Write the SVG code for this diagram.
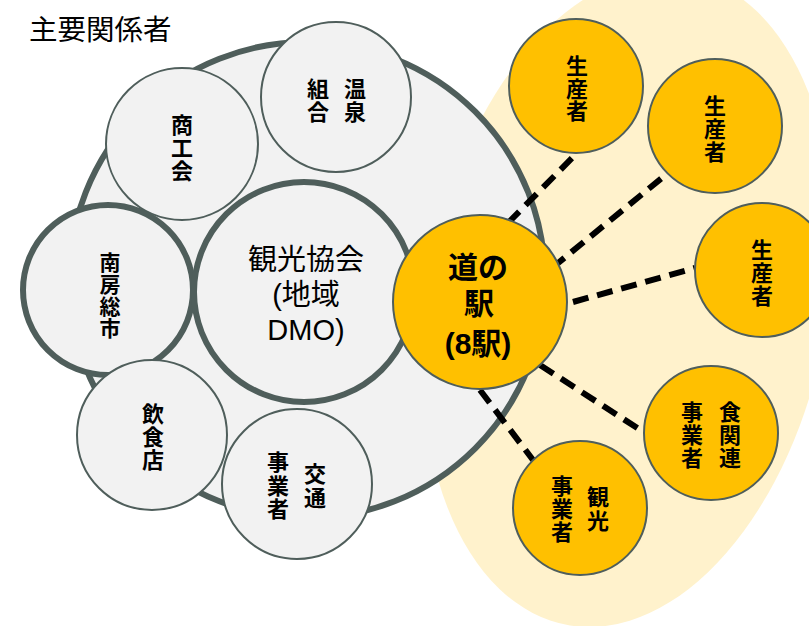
<svg xmlns="http://www.w3.org/2000/svg" width="809" height="626" viewBox="0 0 809 626">
<defs>
<style>
.bg{fill:#fff2cc;stroke:none}
.big{fill:#f2f2f2;stroke:#4f5e5b;stroke-width:6}
.thick{fill:#f2f2f2;stroke:#4f5e5b;stroke-width:6}
.thin{fill:#f2f2f2;stroke:#4f5e5b;stroke-width:2}
.yel{fill:#ffc000;stroke:#4f5e5b;stroke-width:2}
.lbl{font-family:"Noto Sans CJK JP","Liberation Sans",sans-serif;font-weight:bold;font-size:22px;fill:#000;text-anchor:middle}
.lbl21{font-family:"Noto Sans CJK JP","Liberation Sans",sans-serif;font-weight:bold;font-size:21px;fill:#000;text-anchor:middle}
.reg{font-family:"Liberation Sans","Noto Sans CJK JP",sans-serif;font-size:29px;fill:#000;text-anchor:middle}
.eki{font-family:"Liberation Sans","Noto Sans CJK JP",sans-serif;font-weight:bold;font-size:30px;fill:#000;text-anchor:middle}
.dash{stroke:#000;stroke-width:6;stroke-dasharray:16 9;fill:none}
</style>
</defs>
<rect width="809" height="626" fill="#ffffff"/>
<ellipse class="bg" cx="0" cy="0" rx="202" ry="327" transform="translate(628 300) skewX(-6.7)"/>
<text x="29" y="40" font-family="Noto Sans CJK JP, sans-serif" font-size="28.5" fill="#000">主要関係者</text>
<g id="outer"><circle class="big" cx="307" cy="280" r="238"/></g>
<g id="connectors">
<line class="dash" x1="508" y1="223" x2="577" y2="153"/>
<line class="dash" x1="552" y1="268" x2="668" y2="173"/>
<line class="dash" x1="573" y1="302" x2="695" y2="268"/>
<line class="dash" x1="540" y1="365" x2="645" y2="433"/>
<line class="dash" x1="480" y1="390" x2="533" y2="460"/>
</g>
<g id="onsen">
<circle class="thin" cx="336" cy="97" r="75"/>
<text class="lbl"><tspan x="355" y="96.5">温</tspan><tspan x="355" y="119.5">泉</tspan><tspan x="318" y="96.5">組</tspan><tspan x="318" y="119.5">合</tspan></text>
</g>
<g id="shokokai">
<circle class="thin" cx="182" cy="144" r="76"/>
<text class="lbl"><tspan x="182" y="132.5">商</tspan><tspan x="182" y="155.5">工</tspan><tspan x="182" y="178.5">会</tspan></text>
</g>
<g id="minamiboso">
<circle class="thick" cx="108" cy="290" r="85"/>
<text class="lbl21"><tspan x="110" y="270">南</tspan><tspan x="110" y="292">房</tspan><tspan x="110" y="314">総</tspan><tspan x="110" y="336">市</tspan></text>
</g>
<g id="kanko">
<circle class="thick" cx="304" cy="292" r="110"/>
<text class="reg"><tspan x="306" y="270">観光協会</tspan><tspan x="306" y="305">(地域</tspan><tspan x="306" y="340">DMO)</tspan></text>
</g>
<g id="inshokuten">
<circle class="thin" cx="152" cy="435" r="75"/>
<text class="lbl"><tspan x="153" y="421.5">飲</tspan><tspan x="153" y="444.5">食</tspan><tspan x="153" y="467.5">店</tspan></text>
</g>
<g id="kotsu">
<circle class="thin" cx="297" cy="484" r="75"/>
<text class="lbl"><tspan x="315" y="481.5">交</tspan><tspan x="315" y="505.5">通</tspan><tspan x="278" y="469.5">事</tspan><tspan x="278" y="493.5">業</tspan><tspan x="278" y="516.5">者</tspan></text>
</g>
<g id="michinoeki">
<circle class="yel" cx="480" cy="302" r="87"/>
<text class="eki"><tspan x="478" y="278">道の</tspan><tspan x="479" y="314">駅</tspan><tspan x="478" y="354">(8駅)</tspan></text>
</g>
<g id="seisansha1">
<circle class="yel" cx="576" cy="86" r="67"/>
<text class="lbl"><tspan x="577" y="73.5">生</tspan><tspan x="577" y="96.5">産</tspan><tspan x="577" y="118.5">者</tspan></text>
</g>
<g id="seisansha2">
<circle class="yel" cx="715" cy="126" r="67"/>
<text class="lbl"><tspan x="715" y="113.5">生</tspan><tspan x="715" y="136.5">産</tspan><tspan x="715" y="159.5">者</tspan></text>
</g>
<g id="seisansha3">
<circle class="yel" cx="762" cy="270" r="67"/>
<text class="lbl"><tspan x="762" y="257.5">生</tspan><tspan x="762" y="280.5">産</tspan><tspan x="762" y="303.5">者</tspan></text>
</g>
<g id="shokukanren">
<circle class="yel" cx="711" cy="433" r="67"/>
<text class="lbl"><tspan x="730" y="419.5">食</tspan><tspan x="730" y="442.5">関</tspan><tspan x="730" y="465.5">連</tspan><tspan x="692" y="419.5">事</tspan><tspan x="692" y="442.5">業</tspan><tspan x="692" y="465.5">者</tspan></text>
</g>
<g id="kankojigyosha">
<circle class="yel" cx="580" cy="508" r="67"/>
<text class="lbl"><tspan x="598" y="504.5">観</tspan><tspan x="598" y="528.5">光</tspan><tspan x="562" y="493.5">事</tspan><tspan x="562" y="516.5">業</tspan><tspan x="562" y="539.5">者</tspan></text>
</g>
</svg>
